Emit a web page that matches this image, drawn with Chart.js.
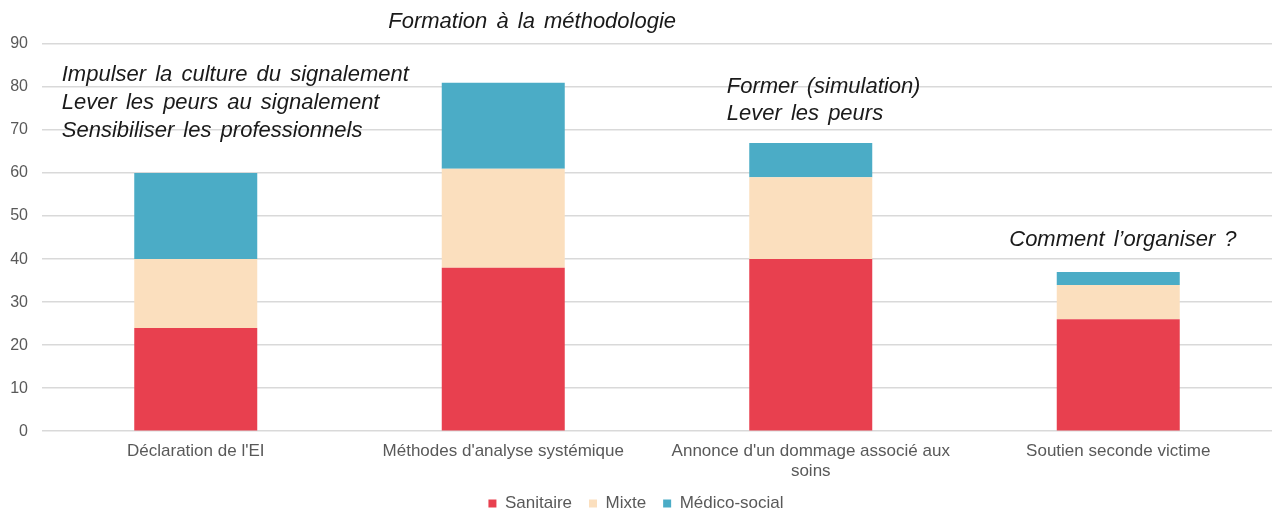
<!DOCTYPE html>
<html lang="fr">
<head>
<meta charset="UTF-8">
<title>Formation</title>
<script src="https://cdn.jsdelivr.net/npm/chart.js@4.4.0/dist/chart.umd.min.js"></script>
<style>
    html, body { margin: 0; padding: 0; background: #fff; }
    .chart-container { position: relative; width: 1275px; height: 516px; }
</style>
</head>
<body>
<div class="chart-container">
    <canvas id="myChart"></canvas>
</div>
<script>
    // data
    var categories = ["Déclaration de l'EI", "Méthodes d'analyse systémique", ["Annonce d'un dommage associé aux", "soins"], "Soutien seconde victime"]
    var sanitaire = [24, 38, 40, 26]
    var mixte = [16, 23, 19, 8]
    var medicoSocial = [20, 20, 8, 3]
    var yTicks = [0, 10, 20, 30, 40, 50, 60, 70, 80, 90]

    // text notes over the bars: category index, y value of baseline, x offset from bar centre
    var notes = [
        { cat: 1, y: 93.7, dx: -115, text: "Formation à la méthodologie" },
        { cat: 0, y: 81.4, dx: -134, text: "Impulser la culture du signalement" },
        { cat: 0, y: 74.9, dx: -134, text: "Lever les peurs au signalement" },
        { cat: 0, y: 68.4, dx: -134, text: "Sensibiliser les professionnels" },
        { cat: 2, y: 78.6, dx: -84, text: "Former (simulation)" },
        { cat: 2, y: 72.3, dx: -84, text: "Lever les peurs" },
        { cat: 3, y: 43, dx: -109, text: "Comment l’organiser ?" }
    ]

    var notesPlugin = {
        id: 'notes',
        afterDraw: function (chart) {
            var ctx = chart.ctx
            var xs = chart.scales.x
            var ys = chart.scales.y
            ctx.save()
            ctx.font = 'italic 22px "Liberation Sans", Arial, sans-serif'
            ctx.fillStyle = '#1a1a1a'
            ctx.textAlign = 'left'
            ctx.textBaseline = 'alphabetic'
            if ('wordSpacing' in ctx) ctx.wordSpacing = '3px'
            notes.forEach(function (n) {
                ctx.fillText(n.text, xs.getPixelForValue(n.cat) + n.dx, ys.getPixelForValue(n.y))
            })
            ctx.restore()
        }
    }

    var ctx = document.getElementById('myChart').getContext('2d')
    var font = '"Liberation Sans", Arial, sans-serif'

    var myChart = new Chart(ctx, {
        type: 'bar',
        data: {
            labels: categories,
            datasets: [
                { label: 'Sanitaire', data: sanitaire, backgroundColor: '#E8404F' },
                { label: 'Mixte', data: mixte, backgroundColor: '#FBDFBE' },
                { label: 'Médico-social', data: medicoSocial, backgroundColor: '#4BACC6' }
            ]
        },
        options: {
            responsive: true,
            maintainAspectRatio: false,
            animation: false,
            datasets: {
                bar: { categoryPercentage: 1, barPercentage: 0.4 }
            },
            layout: {
                padding: { top: 44, left: 0, right: 3, bottom: -6 }
            },
            scales: {
                x: {
                    stacked: true,
                    grid: { display: false },
                    border: { display: false },
                    afterFit: function (axis) {
                        axis.height -= 6
                    },
                    ticks: { color: '#595959', font: { family: font, size: 17 }, padding: 2, maxRotation: 0 }
                },
                y: {
                    stacked: true,
                    min: 0,
                    max: 90,
                    afterBuildTicks: function (axis) {
                        axis.ticks = yTicks.map(function (v) { return { value: v } })
                    },
                    afterFit: function (axis) {
                        axis.width = 42
                    },
                    grid: { color: '#d9d9d9', lineWidth: 1.5, drawTicks: false },
                    border: { display: false },
                    ticks: { color: '#595959', font: { family: font, size: 16 }, padding: 14 }
                }
            },
            plugins: {
                legend: {
                    position: 'bottom',
                    labels: {
                        boxWidth: 8,
                        boxHeight: 8,
                        padding: 17,
                        color: '#595959',
                        font: { family: font, size: 17 }
                    }
                },
                tooltip: { enabled: false }
            }
        },
        plugins: [notesPlugin]
    })
</script>
</body>
</html>
